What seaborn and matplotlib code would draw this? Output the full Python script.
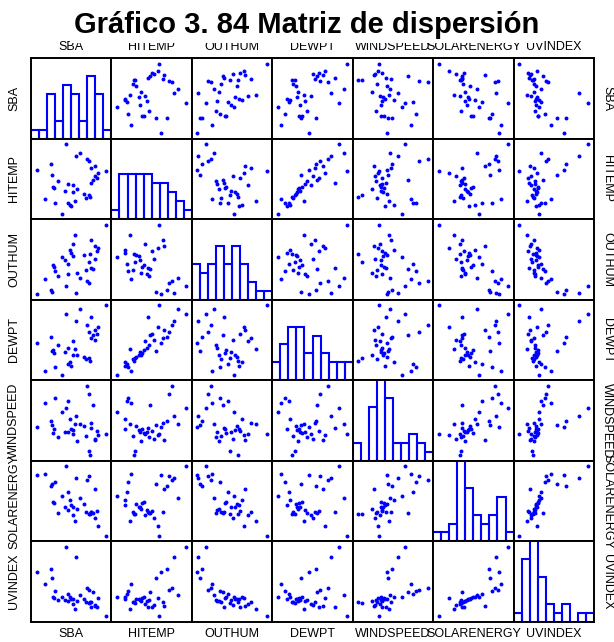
import numpy as np
import pandas as pd
import seaborn as sns
import matplotlib.pyplot as plt

variables = ["SBA", "HITEMP", "OUTHUM", "DEWPT", "WINDSPEED", "SOLARENERGY", "UVINDEX"]

# values (panel units, no tick scale shown in the source)
sba = [0, 12, 21, 22, 24, 25, 27, 31, 37, 41, 43, 45, 46, 48, 49, 52, 53, 55,
       57, 59, 63, 68, 71, 73, 75, 76, 77, 78, 79, 82, 84, 85, 87, 89, 100]
hitemp = [62, 27, 69, 56, 41.5, 40, 23, 48, 10, 37, 92, 22, 45, 20, 19, 35.5, 43.5, 25,
          78, 38.5, 82, 33, 28.5, 74.5, 72, 31.5, 30, 64, 46.5, 49.5, 66, 54, 52, 58, 60]
outhum = [9, 27, 14, 12, 44, 42, 36.5, 31, 53.5, 50, 19, 46, 33, 63, 59, 55, 70, 80,
          10, 35, 29, 56.5, 38, 25, 22, 48, 58, 74, 41, 39.5, 67, 52, 61, 65, 93]
dewpt = [46.5, 13, 54.5, 37, 38.5, 34.5, 18, 44, 9, 36, 82, 22, 41.5, 24, 20, 32, 49, 40,
         73, 33, 88, 30.5, 27.5, 69, 60, 29, 26, 53, 78, 56, 63, 51, 58, 66, 92]
windspeed = [43, 72, 49.5, 45, 36, 40, 78, 30.5, 61, 36.5, 65, 74, 37, 52, 41, 39, 35, 46,
             56, 26, 47, 44, 32, 92, 82, 14, 9, 48, 42, 69, 27.5, 29, 38, 33, 34]
solarenergy = [81.5, 83, 69, 71, 49.5, 48, 73, 36, 57, 43, 92, 61, 40, 52, 45.5, 44, 34.5, 27,
               78, 41, 54.5, 47, 38, 76, 80, 35.5, 35, 37, 37.5, 36.5, 65, 30, 39, 21, 9]
uvindex = [62, 47, 65, 54, 31, 30.5, 39, 27.5, 31.5, 28, 92, 35, 27, 32, 28.5, 29.5, 23, 17,
           80, 26.5, 34, 29, 25.5, 43, 40, 24, 25, 26, 20, 37, 21, 22, 19, 30, 8]

df = pd.DataFrame({
    "SBA": sba,
    "HITEMP": hitemp,
    "OUTHUM": outhum,
    "DEWPT": dewpt,
    "WINDSPEED": windspeed,
    "SOLARENERGY": solarenergy,
    "UVINDEX": uvindex,
})

sns.set_style("white")
plt.rcParams['font.family'] = ['Liberation Sans', 'DejaVu Sans']
plt.rcParams['text.color'] = 'black'

W, H = 614, 642
fig, axes = plt.subplots(7, 7, figsize=(W / 100, H / 100), dpi=100)
fig.subplots_adjust(left=31 / W, right=594 / W, top=1 - 58 / H, bottom=1 - 622 / H,
                    wspace=0, hspace=0)

for i, yvar in enumerate(variables):
    for j, xvar in enumerate(variables):
        ax = axes[i, j]
        if i == j:
            sns.histplot(x=df[xvar], bins=10, fill=False, color="blue",
                         linewidth=1.5, ax=ax)
            ax.set_xlim(df[xvar].min(), df[xvar].max())
            ax.set_ylim(0, 9)
        else:
            sns.scatterplot(x=df[xvar], y=df[yvar], s=8, color="blue",
                            linewidth=0, ax=ax)
            ax.margins(0.08)
        ax.set_xticks([])
        ax.set_yticks([])
        ax.set_xlabel("")
        ax.set_ylabel("")
        for sp in ax.spines.values():
            sp.set_color("black")
            sp.set_linewidth(1.4)

# variable names round the matrix
for k, var in enumerate(variables):
    p = axes[0, k].get_position()
    xc = (p.x0 + p.x1) / 2
    fig.text(xc, 1 - 47 / H, var, ha="center", va="center", fontsize=9, color="black")
    fig.text(xc, 1 - 634 / H, var, ha="center", va="center", fontsize=9, color="black")
    p = axes[k, 0].get_position()
    yc = (p.y0 + p.y1) / 2
    fig.text(14 / W, yc, var, ha="center", va="center", rotation=90, fontsize=9, color="black")
    fig.text(607 / W, yc, var, ha="center", va="center", rotation=270, fontsize=9, color="black")

fig.text(0.5, 1 - 33 / H, "Gráfico 3. 84 Matriz de dispersión", ha="center",
         va="baseline", fontsize=21, fontweight="bold", color="black", zorder=10,
         bbox=dict(facecolor="white", edgecolor="none", pad=3))

fig.savefig("out.png", dpi=100)
